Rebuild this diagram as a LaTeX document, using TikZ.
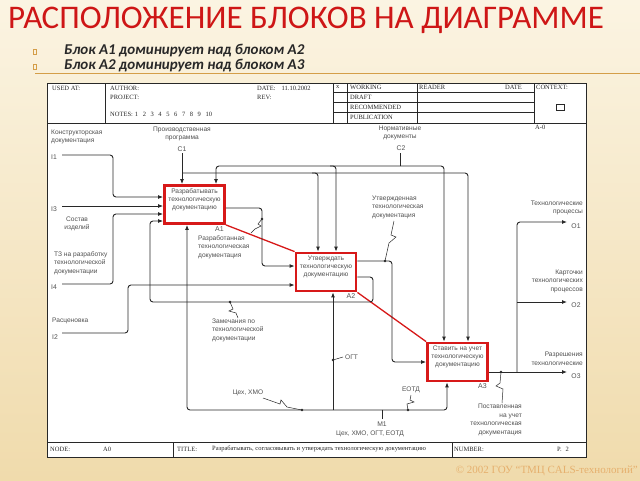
\documentclass[tikz,border=0pt]{standalone}
\usepackage{fontspec}
\setmainfont{Liberation Serif}
\setsansfont{Liberation Sans}
\newfontfamily\slidefont{Carlito}
\usetikzlibrary{arrows.meta,positioning}
\definecolor{titlered}{RGB}{206,22,22}
\definecolor{boxred}{RGB}{215,25,25}
\definecolor{ink}{RGB}{40,40,40}
\definecolor{labgray}{RGB}{80,80,80}
\definecolor{cream}{RGB}{251,244,226}
\definecolor{tan}{RGB}{240,219,172}
\definecolor{gold}{RGB}{212,158,72}
\definecolor{copyc}{RGB}{230,176,110}

\begin{document}
\begin{tikzpicture}[x=1pt,y=-1pt,
  flow/.style={draw=ink,line width=0.9pt,rounded corners=3pt,-{Latex[length=5pt,width=4pt]}},
  wire/.style={draw=ink,line width=0.9pt,rounded corners=3pt},
  squig/.style={draw=ink,line width=0.5pt},
  blok/.style={draw=boxred,line width=2.8pt,fill=white,minimum width=60pt,minimum height=38pt,inner sep=0pt},
  bloktxt/.style={font=\sffamily\fontsize{6.6}{8}\selectfont,text=labgray,align=center,inner sep=0pt},
  blokid/.style={font=\sffamily\fontsize{7}{7}\selectfont,text=labgray,inner sep=0pt,anchor=north east},
  lbl/.style={font=\sffamily\fontsize{6.6}{8.5}\selectfont,text=labgray,inner sep=0pt},
  icom/.style={font=\sffamily\fontsize{6.8}{7}\selectfont,text=labgray,inner sep=0pt},
  frm/.style={font=\rmfamily\fontsize{6.5}{7}\selectfont,text=ink,inner sep=0pt,anchor=west}
]
\useasboundingbox (0,0) rectangle (640,480);
\shade[top color=cream,bottom color=tan] (0,0) rectangle (640,480);

% slide title and bullets
\node[anchor=west,inner sep=0pt,text=titlered,font=\slidefont\fontsize{33}{33}\selectfont] (title) at (8,20) {РАСПОЛОЖЕНИЕ БЛОКОВ НА ДИАГРАММЕ};
\node[draw=gold,line width=0.6pt,minimum width=2.5pt,minimum height=5pt,inner sep=0pt] (mk1) at (35,52) {};
\node[draw=gold,line width=0.6pt,minimum width=2.5pt,minimum height=5pt,inner sep=0pt] (mk2) at (35,67) {};
\node[anchor=west,inner sep=0pt,text=ink,font=\slidefont\bfseries\itshape\fontsize{15}{15}\selectfont] (bul1) at (64,51) {Блок А1 доминирует над блоком А2};
\node[anchor=west,inner sep=0pt,text=ink,font=\slidefont\bfseries\itshape\fontsize{15}{15}\selectfont] (bul2) at (64,66) {Блок А2 доминирует над блоком А3};
\draw[gold,line width=0.8pt] (35,73) -- (640,73);

% frame
\fill[white] (47,83) rectangle (586,457);
\draw[ink,line width=0.6pt] (47,83) rectangle (586,457);
\draw[ink,line width=0.6pt] (47,123) -- (586,123);
\foreach \xx in {105,333,347,417,534}
  \draw[ink,line width=0.6pt] (\xx,83) -- (\xx,123);
\foreach \yy in {92,102,112}
  \draw[ink,line width=0.6pt] (333,\yy) -- (534,\yy);
\draw[ink,line width=0.5pt] (556,104) rectangle (564,110);
\draw[ink,line width=0.6pt] (47,442) -- (586,442);
\draw[ink,line width=0.6pt] (173,442) -- (173,457);
\draw[ink,line width=0.6pt] (452,442) -- (452,457);

\node[frm] (usedat) at (52,88) {USED AT:};
\node[frm] (author) at (110,88) {AUTHOR:};
\node[frm] (project) at (110,97) {PROJECT:};
\node[frm] (notes) at (110,114) {NOTES:\hspace{2pt}1\hspace{4.6pt}2\hspace{4.6pt}3\hspace{4.6pt}4\hspace{4.6pt}5\hspace{4.6pt}6\hspace{4.6pt}7\hspace{4.6pt}8\hspace{4.6pt}9\hspace{4.6pt}10};
\node[frm] (date) at (257,88) {DATE:\hspace{6pt}11.10.2002};
\node[frm] (rev) at (257,97) {REV:};
\node[frm] (xmark) at (336,87) {x};
\node[frm] (working) at (350,87) {WORKING};
\node[frm] (draft) at (350,97) {DRAFT};
\node[frm] (recom) at (350,107) {RECOMMENDED};
\node[frm] (publ) at (350,117.5) {PUBLICATION};
\node[frm] (reader) at (419,87) {READER};
\node[frm] (rdate) at (505,87) {DATE};
\node[frm] (context) at (536,87) {CONTEXT:};
\node[frm] (ctxnum) at (535,127) {A-0};
\node[frm] (node) at (50,449) {NODE:};
\node[frm] (nodenum) at (103,449) {A0};
\node[frm] (ttl) at (177,449) {TITLE:};
\node[frm] (ttltxt) at (212,449) {Разрабатывать, согласовывать и утверждать технологическую документацию};
\node[frm] (number) at (454,449) {NUMBER:};
\node[frm] (page) at (557,449) {P.\hspace{4pt}2};

% blocks
\node[blok] (A1) at (194.5,204.5) {};
\node[blok] (A2) at (326,272) {};
\node[blok] (A3) at (457.5,362) {};
\node[bloktxt,below=4.5pt of A1.north] (A1t) {Разрабатывать\\технологическую\\документацию};
\node[bloktxt,below=4.5pt of A2.north] (A2t) {Утверждать\\технологическую\\документацию};
\node[bloktxt,below=4.5pt of A3.north] (A3t) {Ставить на учет\\технологическую\\документацию};
\node[blokid] (A1n) at ([xshift=-2pt,yshift=-1.5pt]A1.south east) {A1};
\node[blokid] (A2n) at ([xshift=-2pt,yshift=-1.5pt]A2.south east) {A2};
\node[blokid] (A3n) at ([xshift=-2pt,yshift=-1.5pt]A3.south east) {A3};
\draw[boxred,line width=1.3pt] (A1.south east) -- (A2.north west);
\draw[boxred,line width=1.3pt] (A2.south east) -- (A3.north west);

% inputs
\coordinate (I1) at (62,155);
\coordinate (I3) at (62,206);
\coordinate (I4) at (62,284);
\coordinate (I2) at (62,333);
\draw[flow] (I1) -| (113,197) -- (A1.west |- 0,197);
\draw[flow] (I3) -- (A1.west |- I3);
\draw[flow] (I4) -| (113,214) -- (A1.west |- 0,214);
\draw[flow] (I2) -| (128,285) -- (A2.west |- 0,285);
\draw[flow] (A1.east |- 0,208) -| (262,266) -- (A2.west |- 0,266);
\draw[flow] (A2.east |- 0,277) -| (373,302) -| (150,221) -- (A1.west |- 0,221);
\draw[flow] (A2.east |- 0,261) -| (392,362) -- (A3.west);

% controls
\coordinate (C1) at (182,153);
\coordinate (C2) at (400,153);
\draw[flow] (C1) -- (A1.north -| C1);
\draw[flow] (182,173) -| (A3.north -| 468,0);
\draw[flow] (312,173) -| (A2.north -| 318,0);
\draw[wire] (C2) -- (400,166);
\draw[flow] (400,166) -| (A1.north -| 216,0);
\draw[flow] (400,166) -| (A3.north -| 444,0);
\draw[flow] (330,166) -| (A2.north -| 336,0);

% mechanisms
\coordinate (M1) at (382,419);
\draw[wire] (M1) -- (382,410);
\draw[flow] (382,410) -| (A1.south -| 187,0);
\draw[flow] (382,410) -| (A3.south -| 447,0);
\draw[flow] (333,410) -- (A2.south -| 333,0);

% outputs
\coordinate (O1) at (567,222);
\coordinate (O2) at (567,302);
\coordinate (O3) at (567,372);
\draw[flow] (A3.east |- 0,372) -- (O3);
\draw[flow] (517,372) |- (O1);
\draw[flow] (517,302) -- (O2);

% squiggles
\draw[squig] (262,219) -- (258,224) -- (261,226) -- (255,229) -- (251,233);
\draw[squig] (394,221) -- (391,235) -- (396,237) -- (389,243) -- (385,261);
\draw[squig] (230,302) -- (233,309) -- (229,311) -- (236,313) -- (238,318);
\draw[squig] (263,398) -- (280,404) -- (281,400) -- (287,407) -- (302,410);
\draw[squig] (411,395) -- (410,400) -- (414,402) -- (407,404) -- (408,410);
\draw[squig] (501,372) -- (500,383) -- (496,386) -- (503,389) -- (502,403);
\draw[squig] (333,360) -- (343,357);
\foreach \p in {(262,219),(385,261),(230,302),(302,410),(408,410),(333,360),(501,372)}
  \fill[ink] \p circle (1.3pt);

% labels
\node[lbl,anchor=west,align=left] (lkd) at (51,137) {Конструкторская\\документация};
\node[icom] (tI1) at (54,157) {I1};
\node[icom] (tI3) at (54,209) {I3};
\node[lbl,align=center] (lsost) at (77,224) {Состав\\изделий};
\node[lbl,anchor=west,align=left] (ltz) at (54,263) {ТЗ на разработку\\технологической\\документации};
\node[icom] (tI4) at (54,287) {I4};
\node[lbl,anchor=west] (lras) at (52,321) {Расценовка};
\node[icom] (tI2) at (55,337) {I2};
\node[lbl,align=center] (lprog) at (182,134) {Производственная\\программа};
\node[icom] (tC1) at (182,149) {C1};
\node[lbl,align=center] (lnorm) at (400,133) {Нормативные\\документы};
\node[icom] (tC2) at (401,148) {C2};
\node[lbl,anchor=west,align=left] (lrazr) at (198,247) {Разработанная\\технологическая\\документация};
\node[lbl,anchor=west,align=left] (lutv) at (372,207) {Утвержденная\\технологическая\\документация};
\node[lbl,anchor=west,align=left] (lzam) at (212,330) {Замечания по\\технологической\\документации};
\node[lbl,anchor=west] (logt) at (345,357) {ОГТ};
\node[lbl] (lceh) at (248,393) {Цех, ХМО};
\node[lbl] (leotd) at (411,390) {ЕОТД};
\node[icom] (tM1) at (382,424) {M1};
\node[lbl] (lmech) at (370,434) {Цех, ХМО, ОГТ, ЕОТД};
\node[lbl,anchor=east,align=right] (ltp) at (583,208) {Технологические\\процессы};
\node[icom] (tO1) at (576,226) {O1};
\node[lbl,anchor=east,align=right] (lkart) at (583,281) {Карточки\\технологических\\процессов};
\node[icom] (tO2) at (576,305) {O2};
\node[lbl,anchor=east,align=right] (lrazresh) at (583,359) {Разрешения\\технологические};
\node[icom] (tO3) at (576,376) {O3};
\node[lbl,anchor=east,align=right] (lpost) at (522,420) {Поставленная\\на учет\\технологическая\\документация};

% footer
\node[anchor=east,inner sep=0pt,text=copyc,font=\rmfamily\fontsize{11}{11}\selectfont] (copy) at (638,471) {© 2002 ГОУ “ТМЦ CALS-технологий”};
\end{tikzpicture}
\end{document}
